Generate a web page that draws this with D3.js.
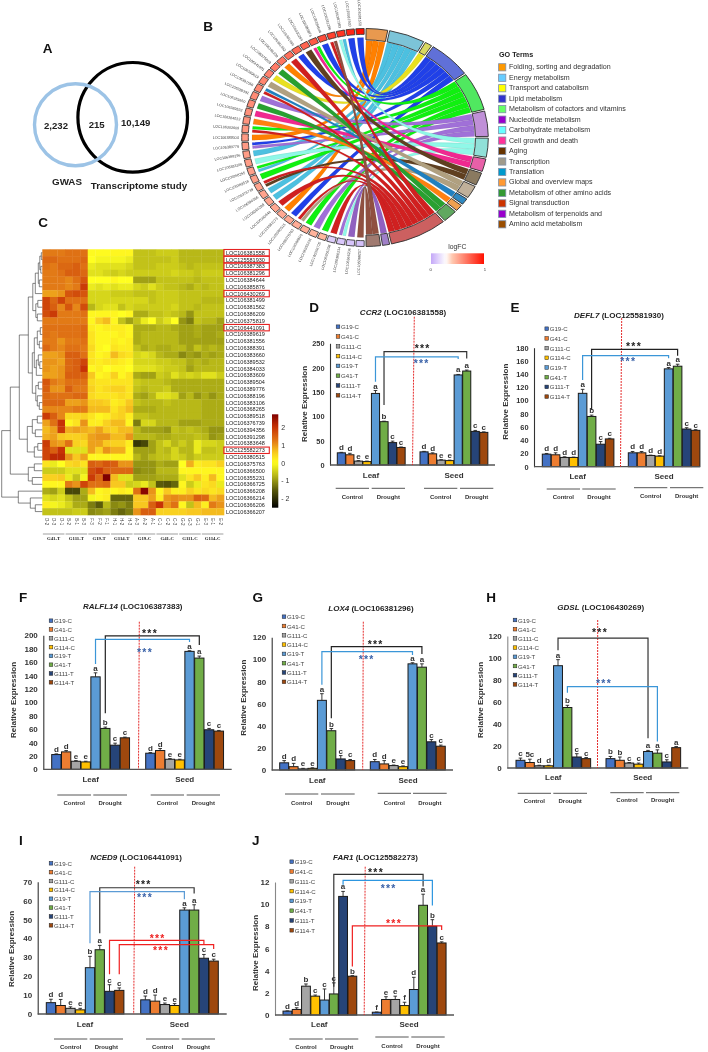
<!DOCTYPE html>
<html><head><meta charset="utf-8">
<script src="https://cdnjs.cloudflare.com/ajax/libs/d3/7.8.5/d3.min.js"></script>
<style>html,body{margin:0;padding:0;background:#fff}svg{display:block;filter:blur(.35px)}text{font-family:"Liberation Sans",Arial,sans-serif}</style>
</head><body><svg id="c" width="708" height="1052"></svg>
<script>
// ---------- Data ----------
const vennLabels = ["2,232","215","10,149"];
const goTerms = ["Folding, sorting and degradation","Energy metabolism","Transport and catabolism","Lipid metabolism","Metabolism of cofactors and vitamins","Nucleotide metabolism","Carbohydrate metabolism","Cell growth and death","Aging","Transcription","Translation","Global and overview maps","Metabolism of other amino acids","Signal transduction","Metabolism of terpenoids and","Amino acid metabolism"];
const rowGenes = ["LOC106381558","LOC125581930","LOC106387383","LOC106381296","LOC106384644","LOC106385876","LOC106430269","LOC106381499","LOC106381562","LOC106386209","LOC106375819","LOC106441091","LOC106389619","LOC106381556","LOC106388391","LOC106383660","LOC106389532","LOC106384033","LOC106383609","LOC106389504","LOC106389776","LOC106388196","LOC106383106","LOC106368265","LOC106389518","LOC106376739","LOC106394356","LOC106391298","LOC106383648","LOC125582273","LOC106380515","LOC106375763","LOC106366500","LOC106355231","LOC106366725","LOC106366208","LOC106366214","LOC106366206","LOC106366207"];
const boxedGenes = ["LOC106381558","LOC125581930","LOC106387383","LOC106381296","LOC106430269","LOC106441091","LOC125582273"];
const columnLabels = ["D-2","D-3","D-1","B-2","B-1","B-3","F-3","F-2","F-1","H-1","H-2","H-3","A-3","A-2","A-1","C-1","C-2","C-3","G-2","G-3","G-1","E-3","E-1","E-2"];
const groupLabels = ["G41-T","G111-T","G19-T","G114-T","G19-C","G41-C","G111-C","G114-C"];
const heat = [
[1.2,1.2,1.2,1.3,1.3,1.3,.05,.05,.05,.1,.1,.1,-.6,-.6,-.6,-.5,-.5,-.5,-.7,-.7,-.7,-.7,-.7,-.7],
[1.4,1.4,1.3,1.3,1.3,1.4,0,-.1,-.1,-.1,-.1,-.2,-.6,-.6,-.6,-.6,-.6,-.5,-.7,-.7,-.7,-.7,-.7,-.7],
[1.3,1.2,1.4,1.4,1.5,1.3,-.2,-.3,-.3,-.3,-.3,-.4,-.6,-.6,-.6,-.5,-.5,-.5,-.6,-.7,-.6,-.6,-.6,-.6],
[1.2,1.2,1.3,1.5,1.5,1.4,-.3,-.3,-.4,-.5,-.4,-.5,-.5,-.5,-.5,-.5,-.5,-.4,-.5,-.5,-.6,-.5,-.5,-.5],
[1.2,1.2,1.2,1.1,1.3,1.6,0,0,0,.1,0,0,-.9,-.9,-.9,-.6,-.6,-.6,-.6,-.6,-.7,-.6,-.6,-.6],
[1.2,1.2,1.2,1.1,1.2,1.9,-.2,-.3,-.2,-.3,-.2,-.2,-.4,-.5,-.3,-.5,-.6,-.6,-.7,-.8,-.6,-.7,-.6,-.6],
[.9,.9,1,1.6,1.7,1.6,-.4,-.4,-.4,-.5,-.5,-.5,-.6,-.6,-.6,-.5,-.5,-.5,-.6,-.6,-.6,-.6,-.6,-.6],
[1.8,1.4,1.8,1.3,1.3,1.3,-.4,-.4,-.4,-.4,-.4,-.4,-.4,-.4,-.6,-.5,-.5,-.5,-.6,-.6,-.6,-.7,-.7,-.7],
[1.8,1.5,1.1,1.6,1.1,1.7,-.7,-.4,-.3,-.3,-.6,-.4,-.5,-.5,-.5,-.5,-.5,-.4,-.6,-.6,-.7,-.6,-.6,-.6],
[1.7,1.9,1.2,1.2,1.2,1.3,.1,.1,.1,.1,0,.1,-.8,-.8,-.6,-.6,-.5,-.6,-.7,-1,-.6,-.6,-.6,-.6],
[1.2,1.2,1.2,1.2,1.2,1.2,.1,.5,.7,.1,-.6,-.9,-.6,-.2,0,-.5,-.3,0,-1,-1.2,-.6,-.7,-.7,-.9],
[1.3,1.3,1.3,1.3,1.3,1.4,.2,.1,.2,.2,.2,.1,-.8,-.8,-.8,-.7,-.7,-.8,-.9,-.9,-.8,-.9,-.9,-.9],
[1.3,1.2,1.3,1.3,1.3,1.4,.3,.1,.1,.1,.2,.1,-.8,-.7,-.7,-.7,-.7,-.7,-.9,-.9,-.8,-.9,-.9,-.8],
[1.2,1.2,1,1.2,1.2,1.3,.3,.1,.1,.2,.1,.2,-.8,-.7,-.7,-.7,-.7,-.7,-.9,-.9,-.9,-.9,-.9,-.9],
[1.4,1.2,1.1,1.3,1.3,1.2,.4,.1,0,.3,.2,.2,-.6,-.8,-.7,-.8,-.8,-.7,-.7,-.9,-.6,-.8,-.7,-.8],
[.9,.9,1,1.5,1.5,1.3,.3,.1,.2,.7,.4,.3,-.4,-.3,-.4,-.7,-.8,-.8,-1.1,-.9,-1,-.8,-.9,-.8],
[1,1,.9,1.4,1.5,1.8,.3,.2,.3,.3,.2,.1,-.4,-.4,-.4,-.5,-.5,-.6,-.6,-.8,-.7,-.8,-.7,-.7],
[1,.9,1,1.4,1.5,2,.1,.2,0,.1,.1,0,-.3,-.3,-.3,-.4,-.5,-.5,-.6,-.9,-.7,-.7,-.7,-.7],
[.9,.9,1,1.5,1.5,1.5,.6,.1,.2,.5,.1,.3,-.8,-.9,-.9,-.5,-.6,-.3,-.5,-.4,-.5,-.3,-.3,-.5],
[1.6,1.2,1.1,1.3,1.3,1.3,.4,.3,.3,.3,.3,.3,-.5,-.6,-.6,-.6,-.7,-.8,-.8,-.8,-.8,-.8,-.8,-.8],
[1.5,1,1,1.5,1.2,1.2,.5,.3,.4,.5,.5,.3,-.6,-.7,-.6,-.6,-.5,-.8,-.8,-.8,-.8,-.8,-.8,-.8],
[1.4,1.3,1.3,1.3,1.4,1.4,.4,.3,.3,.3,.4,.3,-.8,-.9,-.7,-.3,-.3,-.4,-.9,-.7,-1,-.8,-1,-.8],
[1.4,1.4,1.4,.9,.9,1,.6,.6,.5,.2,.3,.6,-.6,-.7,-.7,-.7,-.6,-.7,-.7,-.7,-.7,-.8,-.8,-.8],
[1.1,1.1,1.1,1.1,1.2,1.2,.7,.7,.7,.3,.5,.7,-.8,-.8,-.8,-.7,-.7,-.7,-.7,-.7,-.7,-.8,-.8,-.8],
[1.9,1.5,1.1,.4,.4,.5,.3,.1,.2,.4,.5,.2,-.6,-.6,-.7,-.7,-.7,-.7,-.7,-.7,-.7,-.8,-.8,-.8],
[.9,1.3,2,.1,.3,1,.2,.2,.5,.7,.7,.1,-1.2,-.4,-.4,-.7,-.7,-.7,-.9,-.9,-.9,-.8,-.8,-.8],
[.7,.9,1.9,.8,.9,.8,.7,.9,.6,.5,.7,.7,-.7,-.9,-.9,-.9,-1,-.6,-.7,-.6,-.7,-.8,-1,-1],
[.8,.9,.6,.5,.5,.6,.9,1,1,.7,.7,1,-.7,-.7,-.7,-.8,-.8,-.7,-.7,-.7,-.6,-.7,-1,-.9],
[1.9,1,.9,1.3,.5,.4,.9,.9,.6,.5,.5,.2,-1.9,-1.7,-.9,-.6,-.4,-.7,-.5,-.7,-.2,-.4,-.4,-.5],
[1.8,1.5,2,-.3,-.3,-.3,.9,.5,1,.8,.8,.1,-.9,-.9,-.9,-.6,-.7,-.4,-.7,-.7,-.2,-.6,-.6,-.5],
[1.8,2.1,2.1,1,.6,.9,.1,.1,.1,.1,.1,.1,-.7,-.9,-.7,-.6,-.6,-.4,-.5,-.7,-.5,-.5,-.5,-.5],
[.3,-.2,0,.4,.5,.3,1.5,1.4,1.6,1.5,1,1,-1,-1,-1,-.8,-.9,-.9,0,.8,.2,.3,.3,.5],
[-.5,-.5,-.5,-.3,-.3,-.3,1.7,1.9,1.5,1.4,1.4,1.4,-1.1,-1,-1,-.7,-.7,-.7,.1,.1,.1,.1,.1,.1],
[.5,.5,.6,-.2,-.6,-.1,1.9,1.4,2.7,.7,-.3,-.3,-.9,-.9,-.9,-.8,-.8,-.8,-.3,.3,.6,.2,.7,.1],
[.1,.1,.1,1.2,1,1.8,1.3,1.3,1.4,.6,.6,-.5,-.4,-.2,-.6,-1.5,-1.6,-1.4,.1,-.5,-.2,.3,.4,-.2],
[-.8,-.9,-.5,-1.7,-1.7,-.8,.7,.1,.2,.1,.2,.1,1.3,2.6,1,.1,.6,.2,.2,.5,.3,.4,.3,.4],
[-.3,-.4,-.3,-.6,-.9,-.9,-.1,.1,.2,-1.4,-1.4,-1.4,.6,.6,.9,.2,1,1.1,1,1,1.5,1.4,.7,.9],
[.2,-.1,-.2,-.4,-.8,-.8,-1.2,-1.5,-.7,-1.1,-1,-1.2,.6,.6,1.5,2,1,1.3,.1,-.6,.7,.2,1.2,1],
[-.6,-.6,-.6,-.6,-.5,-.5,-1.1,-1,-.9,-1.2,-1.4,-1.2,1,1.5,1.5,.5,.5,.5,.5,.6,.6,.7,.7,.7]
];
// dendrogram: [height, childA, childB]; numbers are row indices
const dendroTree = [40.6,
  [32,
    [23,
      [14,
        [9.5,[7,[4,[2.5,[1,0,1],[1.5,2,3]],[3,4,5]],6],[6.5,[4.5,7,8],[5,9,10]]],
        [10,[8,[5,[2,11,12],[3,13,14]],[6,[4,15,[2.5,16,17]],18]],[6.5,[4,19,20],[5,21,[3,22,23]]]]],
      [15,[10,[5,24,25],[7,26,27]],[8,[4.5,28,29],30]]],
    [14,[8,31,32],[10,33,34]]],
  [24,35,[12,36,[7,37,38]]]];
// chord: per gene (top to bottom on left half) logFC and linked GO term indices
const geneLogFC = [1,.93,.88,.84,.8,.76,.73,.71,.69,.67,.65,.63,.62,.61,.6,.59,.58,.57,.56,.55,.55,.54,.54,.53,.53,.52,.52,.51,.51,.5,.5,.49,.48,.47,.46,.12,.1,.09,.08];
const geneTerms = [[3],[3],[1,6],[15,13],[3],[4,7],[8],[3],[13],[0],[12],[2],[9],[10,13],[5],[12],[7],[11],[4,13],[0],[3,5],[1],[6],[4,1],[4],[13,8],[1],[1],[13],[0],[3],[13,9],[4],[5],[4],[13],[5,6],[14],[15]];
// bar panels
const genotypes = ["G19-C","G41-C","G111-C","G114-C","G19-T","G41-T","G111-T","G114-T"];
const ccr2Values=[25,21,8,7,147,89,46,36,27,23,10,9,185,193,69,67];
const ccr2Errors=[1,3,1,1,6,1,3,1,1,2,1,1,1,2,2,1];
const ccr2Letters=["d","d","e","e","a","b","c","c","d","d","e","e","a","a","c","c"];
const defl7Values=[19,18,14,14,111,76,34,42,21,21,17,16,148,152,57,55];
const defl7Errors=[1,3,1,.5,6,2,4,1,2,2,.5,.5,2,3,2,1];
const defl7Letters=["d","d","d","d","a","b","c","c","d","d","d","d","a","a","c","c"];
const ralfValues=[22,26,12,11,138,61,36,47,24,28,15,14,176,166,59,57];
const ralfErrors=[1,2,1,1,6,2,3,1,1,3,1,1,1,3,2,1];
const ralfLetters=["d","d","e","e","a","b","c","c","d","d","e","e","a","a","c","c"];
const lox4Values=[6.5,3,1,1.5,63,35.5,10,8.5,7.5,5.5,4,3,96,93,25.5,21.5];
const lox4Errors=[2,3,.5,.5,6,2,3,1,2,3,.5,.7,1,3,2,1];
const lox4Letters=["d","d","e","e","a","b","c","c","d","d","e","e","a","a","c","c"];
const gdslValues=[7,5,2,2,93,55,10,8.5,8.5,7,4.5,3.5,15,13.5,5.5,18.5];
const gdslErrors=[2,3,.5,.5,5.5,2,3,1,2,3,.5,1,1,3,2,1];
const gdslLetters=["c","5c","d","d","a","b","c","c","b","b","c","c","a","a","c","a"];
const nced9Values=[6,4.5,3,2.2,24.5,34,12,12.5,7.5,6.8,5,4.5,55,55,29.5,28];
const nced9Errors=[1.8,3.2,.8,.8,6,2.3,3.5,1.3,2,3.2,.8,1,1.2,2.8,2,1];
const nced9Letters=["d","d","e","e","b","a","c","c","d","d","e","e","a","a","c","c"];
const far1Values=[.35,.5,2.6,1.7,1.35,1.9,10.7,3.5,.25,1.4,1.4,.85,2.3,9.9,8,6.5];
const far1Errors=[.02,.15,.2,.1,1,1,.45,.05,.02,.25,.3,.3,1.1,1,.6,.1];
const far1Letters=["d","d","b","c","c","c","a","b","f","e","e","f","d","a","b","c"];

// ---------- Styles ----------
const barColors=["#4472c4","#ed7d31","#a5a5a5","#ffc000","#5b9bd5","#70ad47","#264478","#9e480e"];
const goSwatch=["#ff9900","#66ccff","#ffff00","#3333cc","#66ff66","#9900cc","#66ffff","#ff3399","#663300","#a09a8a","#0099cc","#ff9933","#339933","#cc3300","#9900cc","#994d00"];
const ringColors=["#e8994f","#7cc4d8","#d8d860","#6070d8","#50e860","#c090d8","#90e0d8","#e860a8","#8a7a60","#c0b09a","#3088c0","#f0a050","#60a860","#cc6060","#a080c8","#a07a70"];
const ribbonColors=["#ff8000","#4cc0e0","#e8e020","#2040e8","#10f010","#a070d8","#90f8e8","#f02890","#604020","#b0a080","#2080c0","#ff8010","#28a030","#d02020","#9060c0","#905040"];
const svg=d3.select("#c");
const T=(g,x,y,s,size,opt={})=>g.append("text").attr("x",x).attr("y",y).attr("font-size",size)
  .attr("font-weight",opt.w||"normal").attr("text-anchor",opt.a||"middle").attr("fill",opt.f||"#222")
  .attr("dominant-baseline",opt.b||"central").text(s);

// panel letters
const panelLetters=[["A",47.7,48],["B",208,26],["C",43,222],["D",314,307],["E",515,307],["F",23,597],["G",257.7,597],["H",491,597],["I",21,840],["J",255.7,840]];
panelLetters.forEach(d=>T(svg,d[1],d[2],d[0],13.5,{w:"bold",f:"#111"}));

// ---------- A: Venn ----------
const venn=svg.append("g");
venn.append("circle").attr("cx",132.7).attr("cy",117.3).attr("r",54.8).attr("fill","none").attr("stroke","#000").attr("stroke-width",3.2);
venn.append("circle").attr("cx",75.5).attr("cy",124.7).attr("r",41).attr("fill","none").attr("stroke","#9cc3e6").attr("stroke-width",3.4);
[[56,125],[96.7,124],[135.7,122]].forEach((p,i)=>T(venn,p[0],p[1],vennLabels[i],9.6,{w:"bold"}));
T(venn,67,181,"GWAS",9.8,{w:"bold"});
T(venn,139,185,"Transcriptome study",9.8,{w:"bold"});

// ---------- B: Chord ----------
const cx=365,cy=137.5,R=123.3,ys=109/123.3,rad=d=>d*Math.PI/180;
const chord=svg.append("g").attr("transform",`translate(${cx},${cy}) scale(1,${ys})`);
const termCounts=goTerms.map((_,i)=>d3.sum(geneTerms,g=>g.filter(t=>t===i).length));
const nLinks=d3.sum(termCounts),pad=.9;
const unit=(179-pad*(goTerms.length-1))/nLinks;
let a=.5;const termArcs=termCounts.map((c,i)=>{const s=a,e=a+c*unit;a=e+pad;return {i,s,e,c,used:0};});
const geneScale=d3.scaleBand().domain(d3.range(geneTerms.length)).range([359.6,180.4]).paddingInner(.16);
const fcColor=d3.scaleLinear().domain([0,.28,.4,1]).range(["#c4a8f8","#ffffff","#ffc8b0","#ff1000"]);
const arc=d3.arc();
const ribbon=d3.ribbon();
const links=[];
geneTerms.forEach((terms,g)=>{
  const b=geneScale.bandwidth(),top=geneScale(g)+0;
  const hi=top+b,lo=top;
  const n=terms.length;
  terms.forEach((t,k)=>{
    const w=(hi-lo)/n;
    const ta=termArcs[t];
    const ts=ta.s+ta.used*unit;ta.used++;
    links.push({t,source:{startAngle:rad(hi-(k+1)*w+w*.08),endAngle:rad(hi-k*w-w*.08),radius:113},
      target:{startAngle:rad(ts),endAngle:rad(ts+unit),radius:109.6}});
  });
});
links.sort((x,y)=>x.t-y.t);
chord.selectAll("path.rib").data(links).join("path").attr("class","rib").attr("d",ribbon)
  .attr("fill",d=>ribbonColors[d.t]).attr("stroke","rgba(40,40,40,.22)").attr("stroke-width",.3);
chord.selectAll("path.term").data(termArcs).join("path").attr("class","term")
  .attr("d",d=>arc({innerRadius:110.5,outerRadius:R,startAngle:rad(d.s),endAngle:rad(d.e)}))
  .attr("fill",d=>ringColors[d.i]).attr("stroke","#333").attr("stroke-width",1);
chord.selectAll("path.gene").data(geneTerms.map((_,i)=>i)).join("path").attr("class","gene")
  .attr("d",i=>arc({innerRadius:116.7,outerRadius:R,startAngle:rad(geneScale(i)),endAngle:rad(geneScale(i)+geneScale.bandwidth())}))
  .attr("fill",i=>fcColor(geneLogFC[i])).attr("stroke","#333").attr("stroke-width",.9);
rowGenes.forEach((name,i)=>{
  const ang=geneScale(i)+geneScale.bandwidth()/2;
  const px=cx+Math.sin(rad(ang))*(R+3),py=cy-Math.cos(rad(ang))*(R+3)*ys;
  svg.append("text").attr("transform",`translate(${px},${py}) rotate(${ang+90})`)
    .attr("text-anchor","end").attr("dominant-baseline","central").attr("font-size",3.7).attr("fill","#444").text(name);
});
// logFC legend
const defs=svg.append("defs");
const gr=defs.append("linearGradient").attr("id","fc");
d3.range(0,1.001,.05).forEach(v=>gr.append("stop").attr("offset",v).attr("stop-color",fcColor(v)));
T(svg,457.3,246.7,"logFC",6.8,{f:"#333"});
svg.append("rect").attr("x",431).attr("y",253.3).attr("width",53).attr("height",10.7).attr("fill","url(#fc)");
T(svg,430.7,269.3,"0",4.2,{f:"#333"});T(svg,485,269.3,"1",4.2,{f:"#333"});

// GO legend
T(svg,499,54,"GO Terms",7.2,{w:"bold",a:"start"});
const goY=d3.scalePoint().domain(goTerms).range([67.3,224.3]);
goTerms.forEach((t,i)=>{
  svg.append("rect").attr("x",498.6).attr("y",goY(t)-3.6).attr("width",7.2).attr("height",7.2).attr("fill",goSwatch[i]).attr("stroke","#7f8fa9").attr("stroke-width",.8);
  T(svg,509,goY(t),t,7.1,{a:"start",f:"#333"});
});

// ---------- C: Heatmap ----------
const hm=svg.append("g");
const hx=d3.scaleBand().domain(d3.range(24)).range([42.3,224]);
const hy=d3.scaleBand().domain(d3.range(rowGenes.length)).range([249.3,515]);
const heatColor=d3.scaleLinear().domain([-2.5,-1.5,-.7,0,.6,1.2,2,2.7])
  .range(["#000000","#5a5a0a","#b8b818","#ffff20","#f8c820","#e27a16","#c73205","#7f0000"]);
heat.forEach((row,r)=>row.forEach((v,c)=>hm.append("rect").attr("x",hx(c)).attr("y",hy(r)).attr("width",hx.bandwidth()+.3).attr("height",hy.bandwidth()+.3).attr("fill",heatColor(v))));
rowGenes.forEach((g,r)=>{
  T(hm,226,hy(r)+hy.bandwidth()/2,g,5.5,{a:"start",f:"#222"});
  if(boxedGenes.includes(g)) hm.append("rect").attr("x",223.9).attr("y",hy(r)+.2).attr("width",45.4).attr("height",hy.bandwidth()-.4).attr("fill","none").attr("stroke","#e52222").attr("stroke-width",1.1);
});
columnLabels.forEach((l,c)=>{
  hm.append("text").attr("transform",`translate(${hx(c)+hx.bandwidth()/2},518) rotate(90)`).attr("font-size",4.6).attr("fill","#444").attr("dominant-baseline","central").text(l);
});
groupLabels.forEach((g,i)=>{
  const x1=hx(i*3)+.6,x2=hx(i*3+2)+hx.bandwidth()-.6;
  hm.append("line").attr("x1",x1).attr("x2",x2).attr("y1",534).attr("y2",534).attr("stroke","#777").attr("stroke-width",.7);
  hm.append("text").attr("x",(x1+x2)/2).attr("y",538.5).attr("text-anchor","middle").attr("dominant-baseline","central").attr("font-size",4.8).attr("font-weight","bold").style("font-family","'Liberation Serif',serif").attr("fill","#222").text(g);
});
// dendrogram
const dx=d3.scaleLinear().domain([0,40.6]).range([42.3,1.7]);
function dendro(node){
  if(typeof node==="number") return {x:dx(0),y:hy(node)+hy.bandwidth()/2};
  const a=dendro(node[1]),b=dendro(node[2]),x=dx(node[0]);
  const p=d3.path();p.moveTo(a.x,a.y);p.lineTo(x,a.y);p.lineTo(x,b.y);p.lineTo(b.x,b.y);
  hm.append("path").attr("d",p).attr("fill","none").attr("stroke","#333").attr("stroke-width",.6);
  return {x,y:(a.y+b.y)/2};
}
dendro(dendroTree);
// colorbar
const cb=defs.append("linearGradient").attr("id","cbar").attr("x1",0).attr("x2",0).attr("y1",1).attr("y2",0);
d3.range(-2.5,2.71,.2).forEach(v=>cb.append("stop").attr("offset",(v+2.5)/5.2).attr("stop-color",heatColor(v)));
hm.append("rect").attr("x",272).attr("y",414.3).attr("width",6.3).attr("height",93.4).attr("fill","url(#cbar)");
const cbTicks=[2,1,0,-1,-2];
hm.append("g").attr("transform","translate(278.3,0)").call(d3.axisRight(d3.scaleLinear().domain([-2.5,2.7]).range([507.5,414.5])).tickValues(cbTicks).tickSize(0).tickPadding(3).tickFormat(d=>d<0?"- "+(-d):d))
  .call(g=>g.select(".domain").remove()).call(g=>g.selectAll("text").attr("font-size",7).attr("fill","#333").style("font-family","'Liberation Sans',Arial"));

// ---------- D-J: bars ----------
const panels=[
 {gene:"CCR2",loc:" (LOC106381558)",values:ccr2Values,errors:ccr2Errors,letters:ccr2Letters,yMax:250,ticks:[0,50,100,150,200,250],
  axisX:330,axisEnd:495,base:465,top:343.3,leaf:[337.3,8.48],seed:[420,8.48],tickF:7.4,
  titleX:403,titleY:311.7,legX:338,legY:326.7,legStep:9.8,ylabX:304,ylabY:404,
  red:[414.3,316.7,412.5],leafX:371,seedX:454,lblY:475,
  lines:[[335.7,369,488.3,497,"Control"],[371.7,405,488.3,497,"Drought"],[424,457.3,488.3,497,"Control"],[460,493.3,488.3,497,"Drought"]],
  brackets:[["#333",5,13,233,123,219],["#3b96d8",4,12,222,171,218]],
  stars:[["#222",422.7,346.7],["#3a62a8",421.7,361.7]]},
 {gene:"DEFL7",loc:" (LOC125581930)",values:defl7Values,errors:defl7Errors,letters:defl7Letters,yMax:180,ticks:[0,20,40,60,80,100,120,140,160,180],
  axisX:534,axisEnd:700,base:466.7,top:347.7,leaf:[542.3,8.95],seed:[628.3,8.95],tickF:7.4,
  titleX:619,titleY:315,legX:546.7,legY:328.7,legStep:9.7,ylabX:505,ylabY:401.7,
  red:[621.7,318,620.5],leafX:577.7,seedX:664,lblY:476.7,
  lines:[[546.7,580,489,496.7,"Control"],[582.3,615.7,489,496.7,"Drought"],[634,667.3,487.7,495.7,"Control"],[670,703.3,487.7,495.7,"Drought"]],
  brackets:[["#222",5,13,177.5,86,168],["#3b96d8",4,12,168,131,164]],
  stars:[["#222",634,345],["#3a62a8",628.3,360]]},
 {gene:"RALFL14",loc:" (LOC106387383)",values:ralfValues,errors:ralfErrors,letters:ralfLetters,yMax:200,ticks:[0,20,40,60,80,100,120,140,160,180,200],
  axisX:43.3,axisEnd:231.7,base:769.3,top:635.3,leaf:[51.7,9.73],seed:[145.7,9.73],tickF:8,
  titleX:132.7,titleY:606.3,legX:51,legY:620.7,legStep:8.8,ylabX:13.3,ylabY:700,
  red:[139.3,621.7,138.5],leafX:90.7,seedX:184.7,lblY:779.3,
  lines:[[57.3,91,795,802.7,"Control"],[93.3,127,795,802.7,"Drought"],[150.7,184,795,802.7,"Control"],[186.7,220,795,802.7,"Drought"]],
  brackets:[["#222",5,13,199,83.6,185.6],["#3b96d8",4,12,194,157,190]],
  stars:[["#222",150,631.7],["#3a62a8",145,650.7]]},
 {gene:"LOX4",loc:" (LOC106381296)",values:lox4Values,errors:lox4Errors,letters:lox4Letters,yMax:120,ticks:[0,20,40,60,80,100,120],
  axisX:271.7,axisEnd:453,base:770,top:637.3,leaf:[279.7,9.37],seed:[370.3,9.37],tickF:8,
  titleX:371,titleY:608.3,legX:284,legY:616.7,legStep:9.3,ylabX:243.3,ylabY:697.7,
  red:[363.3,621.7,362.7],leafX:317.3,seedX:408,lblY:780,
  lines:[[285,318.3,794,802.7,"Control"],[321,354.7,794,802.7,"Drought"],[377.7,411,793.3,802.7,"Control"],[413,446.7,793.3,802.7,"Drought"]],
  brackets:[["#222",5,13,111.5,46.7,105],["#3b96d8",4,12,107,77,104]],
  stars:[["#222",375.7,642.3],["#3a62a8",366.7,657.3]]},
 {gene:"GDSL",loc:" (LOC106430269)",values:gdslValues,errors:gdslErrors,letters:gdslLetters,yMax:120,ticks:[0,20,40,60,80,100,120],
  axisX:507.3,axisEnd:688.3,base:768,top:636,leaf:[516,9.33],seed:[606,9.33],tickF:8,
  titleX:600.7,titleY:607,legX:515,legY:620,legStep:9.2,ylabX:480,ylabY:700,axisColor:"#888",
  red:[597.7,620,597.5],leafX:553.3,seedX:642.7,lblY:777.7,
  lines:[[517.7,551,793.3,801,"Control"],[553.3,587,793.3,801,"Drought"],[610.3,643.7,792.7,800,"Control"],[646,679.3,792.7,800,"Drought"]],
  brackets:[["#333",4,12,118,107,27],["#3b96d8",5,13,74,68.5,24]],
  stars:[["#222",600,631],["#3a62a8",604,681.7]]},
 {gene:"NCED9",loc:" (LOC106441091)",values:nced9Values,errors:nced9Errors,letters:nced9Letters,yMax:70,ticks:[0,10,20,30,40,50,60,70],
  axisX:37.7,axisEnd:226.7,base:1014,top:881.7,leaf:[46.3,9.7],seed:[140.7,9.7],tickF:8,
  titleX:136,titleY:856.7,legX:51,legY:863.3,legStep:8.86,ylabX:11,ylabY:949,
  red:[134.7,866.7,133.7],leafX:85,seedX:179.3,lblY:1024,
  lines:[[54,87.3,1039,1047,"Control"],[89.7,123,1039,1047,"Drought"],[146,179.3,1039,1046.5,"Control"],[181.7,215,1039,1047,"Drought"]],
  brackets:[["#333",5,13,66.8,42.7,63.8],["#5b9bd5",4,12,64.7,37.4,60.7],["#f02020",6,14,39,21,37],["#f02020",7,15,36.7,21,34.4]],
  stars:[["#222",143.7,882.3],["#3a62a8",145,896],["#ee2020",157.7,936.7],["#ee2020",161,949]]},
 {gene:"FAR1",loc:" (LOC125582273)",values:far1Values,errors:far1Errors,letters:far1Letters,yMax:12,ticks:[0,2,4,6,8,10,12],
  axisX:275,axisEnd:454,base:1015,top:882,leaf:[283,9.22],seed:[372.3,9.22],tickF:8,axisColor:"#888",
  titleX:375.5,titleY:856.7,legX:291.7,legY:861.7,legStep:9.8,ylabX:255.7,ylabY:953,
  red:[365.2,866.7,364.2],leafX:319.3,seedX:409,lblY:1024.3,
  lines:[[289.3,322.7,1039,1047,"Control"],[325,358.3,1039,1047,"Drought"],[375.3,408.7,1037,1046,"Control"],[411.3,444.7,1037,1046,"Drought"]],
  brackets:[["#333",5,13,12.68,2.56,11.6],["#2d96e0",6,14,12.14,11.75,9.88],["#f02020",7,15,8.04,4.37,7.68]],
  stars:[["#222",376,870.7],["#3a62a8",388.7,886.7],["#ee2020",394,922]]}
];
panels.forEach(p=>{
  const g=svg.append("g");
  const y=d3.scaleLinear().domain([0,p.yMax]).range([p.base,p.top]);
  const lb=d3.scaleBand().domain(genotypes).range([p.leaf[0],p.leaf[0]+8*p.leaf[1]]).paddingInner(.05);
  const sb=d3.scaleBand().domain(genotypes).range([p.seed[0],p.seed[0]+8*p.seed[1]]).paddingInner(.05);
  const bx=i=>i<8?lb(genotypes[i]):sb(genotypes[i-8]);
  const w=lb.bandwidth(),bc=i=>bx(i)+w/2;
  const t=g.append("text").attr("x",p.titleX).attr("y",p.titleY).attr("text-anchor","middle").attr("dominant-baseline","central").attr("font-size",8).attr("font-weight","bold").attr("fill","#222");
  t.append("tspan").attr("font-style","italic").text(p.gene);t.append("tspan").text(p.loc);
  const ax=g.append("g").attr("transform",`translate(${p.axisX},0)`).call(d3.axisLeft(y).tickValues(p.ticks).tickSize(0).tickPadding(5.5));
  ax.select(".domain").attr("stroke",p.axisColor||"#333").attr("stroke-width",1.1);
  ax.selectAll("text").attr("font-size",p.tickF).attr("font-weight","bold").attr("fill","#333").style("font-family","'Liberation Sans',Arial");
  g.append("text").attr("transform",`translate(${p.ylabX},${p.ylabY}) rotate(-90)`).attr("text-anchor","middle").attr("dominant-baseline","central").attr("font-size",8).attr("font-weight","bold").attr("fill","#333").text("Relative Expression");
  p.values.forEach((v,i)=>{
    const c=barColors[i%8];
    g.append("rect").attr("x",bx(i)).attr("y",y(v)).attr("width",w).attr("height",p.base-y(v)).attr("fill",c).attr("stroke","#1a1a1a").attr("stroke-width",1);
    const e=y(v+p.errors[i]);
    g.append("line").attr("x1",bc(i)).attr("x2",bc(i)).attr("y1",y(v)).attr("y2",e).attr("stroke","#222").attr("stroke-width",.9);
    g.append("line").attr("x1",bc(i)-1.8).attr("x2",bc(i)+1.8).attr("y1",e).attr("y2",e).attr("stroke","#222").attr("stroke-width",.9);
    g.append("text").attr("x",bc(i)).attr("y",e-2).attr("text-anchor","middle").attr("font-size",8).attr("font-weight","bold").attr("fill","#333").text(p.letters[i]);
  });
  g.append("line").attr("x1",p.axisX).attr("x2",p.axisEnd).attr("y1",p.base).attr("y2",p.base).attr("stroke","#555").attr("stroke-width",1.3);
  genotypes.forEach((n,i)=>{
    const ly=p.legY+i*p.legStep;
    g.append("rect").attr("x",p.legX-1.8).attr("y",ly-1.8).attr("width",3.6).attr("height",3.6).attr("fill",barColors[i]).attr("stroke","#222").attr("stroke-width",.5);
    T(g,p.legX+3,ly,n,6.1,{a:"start",f:"#444"});
  });
  g.append("line").attr("x1",p.red[0]).attr("y1",p.red[1]).attr("x2",p.red[2]).attr("y2",p.base).attr("stroke","#e52b2b").attr("stroke-width",1).attr("stroke-dasharray","2,1");
  p.brackets.forEach(b=>{
    const d=d3.path(),x1=bc(b[1]),x2=bc(b[2]);
    d.moveTo(x1,y(b[4]));d.lineTo(x1,y(b[3]));d.lineTo(x2,y(b[3]));d.lineTo(x2,y(b[5]));
    g.append("path").attr("d",d).attr("fill","none").attr("stroke",b[0]).attr("stroke-width",1.2);
  });
  p.stars.forEach(s=>g.append("text").attr("x",s[1]).attr("y",s[2]+5.2).attr("text-anchor","middle").attr("font-size",10.4).attr("font-weight","bold").attr("letter-spacing",1.3).attr("fill",s[0]).text("***"));
  T(g,p.leafX,p.lblY,"Leaf",8,{w:"bold",f:"#333"});
  T(g,p.seedX,p.lblY,"Seed",8,{w:"bold",f:"#333"});
  p.lines.forEach(l=>{
    g.append("line").attr("x1",l[0]).attr("x2",l[1]).attr("y1",l[2]).attr("y2",l[2]).attr("stroke","#444").attr("stroke-width",.9);
    T(g,(l[0]+l[1])/2,l[3],l[4],6,{w:"bold",f:"#333"});
  });
});
</script></body></html>
